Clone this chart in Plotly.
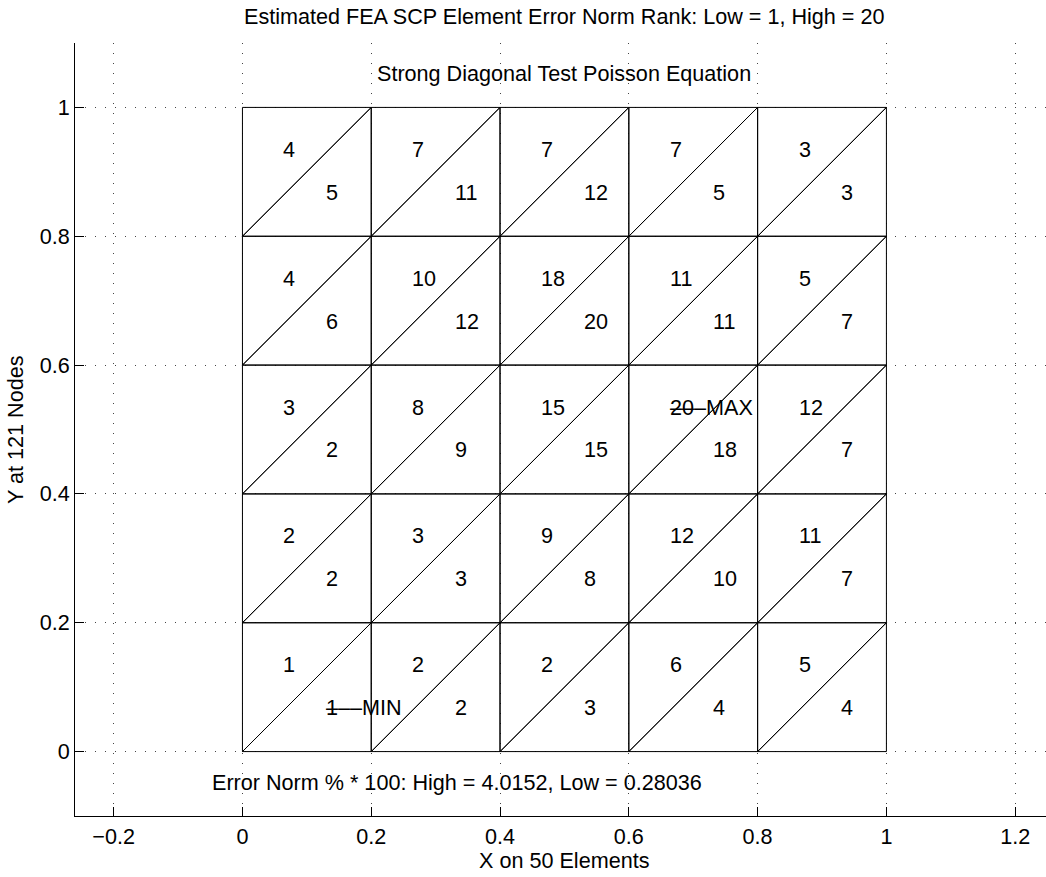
import plotly.graph_objects as go

# Mesh node coordinates (6 x 6 nodes, 5 x 5 squares, each split on the diagonal)
x_nodes = [0.0, 0.2, 0.4, 0.6, 0.8, 1.0]
y_nodes = [0.0, 0.2, 0.4, 0.6, 0.8, 1.0]

# Element error-norm ranks, rows listed from bottom (y=0) to top (y=1)
# upper-left triangle of each square
rank_upper = [
    [1, 2, 2, 6, 5],
    [2, 3, 9, 12, 11],
    [3, 8, 15, 20, 12],
    [4, 10, 18, 11, 5],
    [4, 7, 7, 7, 3],
]
# lower-right triangle of each square
rank_lower = [
    [1, 2, 3, 4, 4],
    [2, 3, 8, 10, 7],
    [2, 9, 15, 18, 7],
    [6, 12, 20, 11, 7],
    [5, 11, 12, 5, 3],
]

# Flagged elements: (row, column, triangle)
max_element = (2, 3, "upper")
min_element = (0, 0, "lower")

error_high = 4.0152
error_low = 0.28036
n_elements = 50
n_nodes = 121

FONT = "Liberation Sans, Arial, Helvetica, sans-serif"
FS = 21.6

fig = go.Figure()

# Triangle edges
ex, ey = [], []
for i in range(len(y_nodes) - 1):
    for j in range(len(x_nodes) - 1):
        x0, x1 = x_nodes[j], x_nodes[j + 1]
        y0, y1 = y_nodes[i], y_nodes[i + 1]
        # upper-left triangle
        ex += [x0, x1, x0, x0, None]
        ey += [y0, y1, y1, y0, None]
        # lower-right triangle
        ex += [x0, x1, x1, x0, None]
        ey += [y0, y0, y1, y0, None]

fig.add_trace(go.Scatter(x=ex, y=ey, mode="lines",
                         line=dict(color="black", width=1),
                         hoverinfo="skip", showlegend=False))

annotations = []


def label(x, y, text, **kw):
    d = dict(x=x, y=y, xref="x", yref="y", text=text, showarrow=False,
             xanchor="left", yanchor="middle", borderpad=0, borderwidth=0,
             xshift=-2, yshift=1,
             font=dict(family=FONT, size=FS, color="black"))
    d.update(kw)
    annotations.append(d)


for i in range(len(y_nodes) - 1):
    for j in range(len(x_nodes) - 1):
        x0, x1 = x_nodes[j], x_nodes[j + 1]
        y0, y1 = y_nodes[i], y_nodes[i + 1]
        cu = ((x0 + x1 + x0) / 3, (y0 + y1 + y1) / 3)
        cl = ((x0 + x1 + x1) / 3, (y0 + y0 + y1) / 3)
        label(cu[0], cu[1], str(rank_upper[i][j]))
        label(cl[0], cl[1], str(rank_lower[i][j]))
        for tag, elem in (("MAX", max_element), ("MIN", min_element)):
            if elem[0] == i and elem[1] == j:
                c = cu if elem[2] == "upper" else cl
                label(c[0], c[1], "\u2013\u2013\u2013" + tag)

mid = (x_nodes[0] + x_nodes[-1]) / 2

# Titles and axis labels
annotations.append(dict(
    x=mid, y=1.0, xref="x", yref="paper", yanchor="bottom", yshift=12,
    text="Estimated FEA SCP Element Error Norm Rank: Low = 1, High = 20",
    showarrow=False, font=dict(family=FONT, size=FS, color="black")))
annotations.append(dict(
    x=mid, y=1.053, xref="x", yref="y", yanchor="middle",
    text="Strong Diagonal Test Poisson Equation",
    showarrow=False, font=dict(family=FONT, size=FS, color="black")))
label(-0.05, -0.05,
      f"Error Norm % * 100: High = {error_high}, Low = {error_low}",
      xshift=2)
annotations.append(dict(
    x=mid, y=0.0, xref="x", yref="paper",
    yanchor="top", yshift=-30,
    text=f"X on {n_elements} Elements",
    showarrow=False, font=dict(family=FONT, size=FS, color="black")))
annotations.append(dict(
    x=0.0, y=0.5, xref="paper", yref="y", xanchor="right", xshift=-45,
    textangle=-90, text=f"Y at {n_nodes} Nodes",
    showarrow=False, font=dict(family=FONT, size=FS, color="black")))

axis_common = dict(
    showline=True, linecolor="black", linewidth=1, mirror=False,
    ticks="inside", ticklen=9, tickcolor="black", tickwidth=1,
    showgrid=True, gridcolor="#444444", gridwidth=1, griddash="1px,9px",
    zeroline=False, dtick=0.2, tick0=0,
    tickfont=dict(family=FONT, size=FS, color="black"),
)

fig.update_layout(
    width=1046, height=877,
    margin=dict(l=75, r=0, t=43, b=61),
    paper_bgcolor="white", plot_bgcolor="white",
    showlegend=False,
    xaxis=dict(range=[-0.26, 1.2478], ticklabelstandoff=1, **axis_common),
    yaxis=dict(range=[-0.1, 1.1], **axis_common),
    annotations=annotations,
)

fig.write_html("out.html")
